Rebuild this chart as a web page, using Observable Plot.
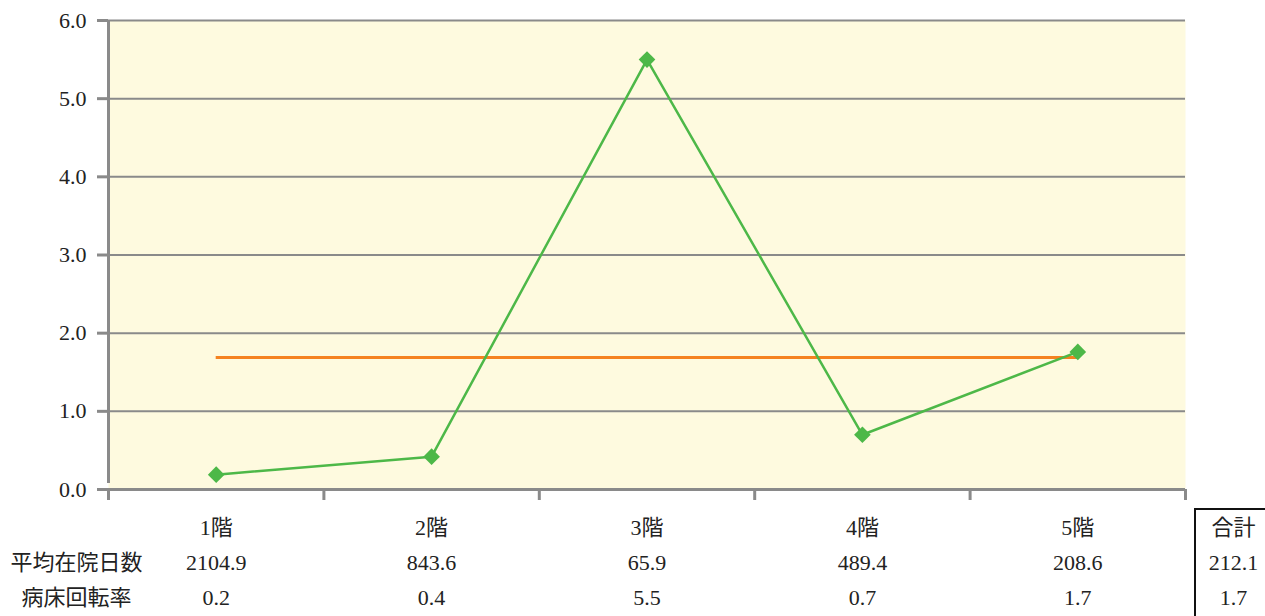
<!DOCTYPE html>
<html>
<head>
<meta charset="utf-8">
<script src="https://cdn.jsdelivr.net/npm/d3@7"></script>
<script src="https://cdn.jsdelivr.net/npm/@observablehq/plot@0.6"></script>
<style>
  html, body { margin: 0; padding: 0; background: #fff; }
  #wrap { position: relative; width: 1265px; height: 616px; }
  #totalbox { position: absolute; left: 1194px; top: 508px; width: 80px; height: 120px; border: 2px solid #111; box-sizing: border-box; pointer-events: none; }
</style>
</head>
<body>
<div id="wrap"><div id="totalbox"></div></div>
<script>
// Data
const floors = ["1階", "2階", "3階", "4階", "5階"];
const avgStay = ["2104.9", "843.6", "65.9", "489.4", "208.6"];
const turnoverLabels = ["0.2", "0.4", "5.5", "0.7", "1.7"];
const turnover = [0.19, 0.42, 5.5, 0.70, 1.76];
const totalLabel = "合計";
const totalAvgStay = "212.1";
const totalTurnover = "1.7";
const totalTurnoverValue = 1.69;
const rowLabels = ["平均在院日数", "病床回転率"];
const yTicks = [0, 1, 2, 3, 4, 5, 6];
const xBoundaries = [0, 1, 2, 3, 4, 5];

const rows = floors.map((f, i) => ({i, pos: i + 0.5, floor: f, stay: avgStay[i], rate: turnover[i], rateLabel: turnoverLabels[i]}));

const gray = "#8a8a8a";
const green = "#4db848";
const orange = "#f58220";
const ink = "#222";
const fs = 22;

const chart = Plot.plot({
  width: 1265,
  height: 616,
  marginLeft: 108,
  marginRight: 80,
  marginTop: 20,
  marginBottom: 127,
  style: {fontFamily: "'Liberation Serif', 'DejaVu Serif', 'Noto Sans CJK JP', serif", fontSize: "22px", background: "transparent", overflow: "visible"},
  x: {domain: [0, 5]},
  y: {domain: [0, 6]},
  marks: [
    Plot.frame({fill: "#fefadf", stroke: "none"}),
    Plot.gridY(yTicks, {stroke: gray, strokeOpacity: 1, strokeWidth: 2}),
    Plot.axisY(yTicks, {tickFormat: d3.format(".1f"), tickSize: 11, tickPadding: 11, stroke: gray, strokeWidth: 3, fill: ink, fontSize: fs, label: null}),
    Plot.axisX(xBoundaries, {tickFormat: () => "", tickSize: 11, stroke: gray, strokeWidth: 3, label: null}),
    Plot.ruleX([0], {y1: 0, y2: 6, insetTop: -6, stroke: gray, strokeWidth: 3}),
    Plot.ruleY([0], {stroke: gray, strokeWidth: 3}),
    Plot.ruleY([totalTurnoverValue], {x1: 0.5, x2: 4.5, stroke: orange, strokeWidth: 3}),
    Plot.line(rows, {x: "pos", y: "rate", stroke: green, strokeWidth: 2.5}),
    Plot.dot(rows, {x: "pos", y: "rate", symbol: "diamond2", r: 7.5, fill: green, stroke: "none"}),
    // Table below the chart
    Plot.text(rows, {x: "pos", text: "floor", frameAnchor: "bottom", dy: 45, fill: ink, fontSize: fs}),
    Plot.text(rows, {x: "pos", text: "stay", frameAnchor: "bottom", dy: 80, fill: ink, fontSize: fs}),
    Plot.text(rows, {x: "pos", text: "rateLabel", frameAnchor: "bottom", dy: 115, fill: ink, fontSize: fs}),
    Plot.text([rowLabels[0]], {frameAnchor: "bottom-left", dx: -32, dy: 80, fill: ink, fontSize: fs, textAnchor: "middle"}),
    Plot.text([rowLabels[1]], {frameAnchor: "bottom-left", dx: -32, dy: 115, fill: ink, fontSize: fs, textAnchor: "middle"}),
    Plot.text([totalLabel], {frameAnchor: "bottom-right", dx: 48, dy: 45, fill: ink, fontSize: fs, textAnchor: "middle"}),
    Plot.text([totalAvgStay], {frameAnchor: "bottom-right", dx: 48, dy: 80, fill: ink, fontSize: fs, textAnchor: "middle"}),
    Plot.text([totalTurnover], {frameAnchor: "bottom-right", dx: 48, dy: 115, fill: ink, fontSize: fs, textAnchor: "middle"})
  ]
});
document.getElementById("wrap").prepend(chart);
</script>
</body>
</html>
